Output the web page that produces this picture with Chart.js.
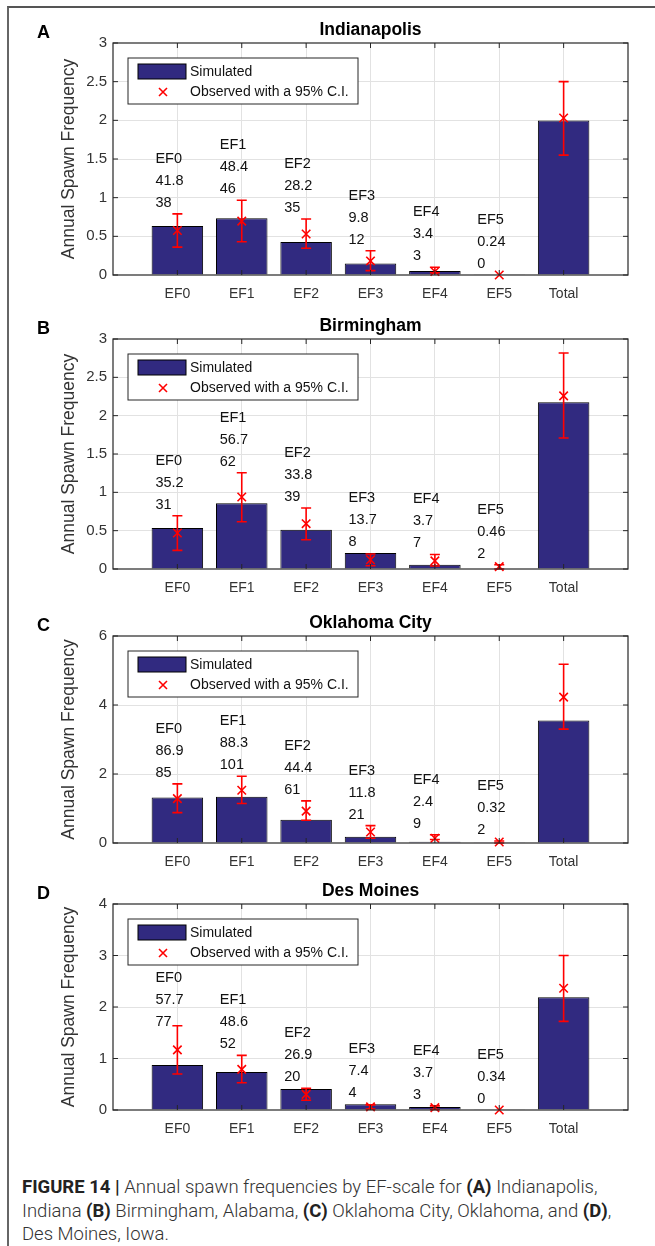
<!DOCTYPE html>
<html>
<head>
<meta charset="utf-8">
<script src="https://cdn.jsdelivr.net/npm/chart.js@4"></script>
<style>
  html, body { margin: 0; padding: 0; background: #fff; }
  #page { position: relative; width: 655px; height: 1246px; overflow: hidden; }
  #frame { position: absolute; left: 7px; top: 6px; width: 660px; height: 1260px;
           border-top: 2px solid #555; border-left: 2px solid #666; }
  canvas { position: absolute; left: 0; }
  #caption { position: absolute; left: 22px; top: 1176px; font-family: Roboto, "Liberation Sans", sans-serif;
             font-weight: 300; font-size: 18.5px; line-height: 23.5px; color: #333; white-space: nowrap; }
  #caption b { font-weight: 700; color: #222; }
</style>
</head>
<body>
<div id="page">
  <div id="frame"></div>
  <canvas id="chartA" width="655" height="295" style="top:10px"></canvas>
  <canvas id="chartB" width="655" height="294" style="top:305px"></canvas>
  <canvas id="chartC" width="655" height="274" style="top:599px"></canvas>
  <canvas id="chartD" width="655" height="267" style="top:873px"></canvas>
  <div id="caption">
    <b>FIGURE 14 |</b> Annual spawn frequencies by EF-scale for <b>(A)</b> Indianapolis,<br>
    Indiana <b>(B)</b> Birmingham, Alabama, <b>(C)</b> Oklahoma City, Oklahoma, and <b>(D)</b>,<br>
    Des Moines, Iowa.
  </div>
</div>
<script>
// categories on the x axis
const categories = ['EF0', 'EF1', 'EF2', 'EF3', 'EF4', 'EF5', 'Total'];
// record length used to turn counts into annual frequencies
const YEARS = 66;

// Indianapolis
const simIndianapolis = [41.8, 48.4, 28.2, 9.8, 3.4, 0.24, 131.84];
const obsIndianapolis = [38, 46, 35, 12, 3, 0, 134];
const ciLowIndianapolis = [0.36, 0.43, 0.345, 0.056, 0.03, 0, 1.55];
const ciHighIndianapolis = [0.79, 0.966, 0.724, 0.314, 0.1, 0, 2.5];

// Birmingham
const simBirmingham = [35.2, 56.7, 33.8, 13.7, 3.7, 0.46, 143.56];
const obsBirmingham = [31, 62, 39, 8, 7, 2, 149];
const ciLowBirmingham = [0.243, 0.617, 0.382, 0.043, 0.04, 0, 1.709];
const ciHighBirmingham = [0.695, 1.256, 0.796, 0.196, 0.19, 0.056, 2.817];

// Oklahoma City
const simOklahoma = [86.9, 88.3, 44.4, 11.8, 2.4, 0.32, 234.12];
const obsOklahoma = [85, 101, 61, 21, 9, 2, 279];
const ciLowOklahoma = [0.88, 1.143, 0.66, 0.136, 0.1, 0, 3.3];
const ciHighOklahoma = [1.713, 1.936, 1.22, 0.505, 0.24, 0.06, 5.18];

// Des Moines
const simDesMoines = [57.7, 48.6, 26.9, 7.4, 3.7, 0.34, 144.64];
const obsDesMoines = [77, 52, 20, 4, 3, 0, 156];
const ciLowDesMoines = [0.699, 0.53, 0.19, 0.02, 0.01, 0, 1.72];
const ciHighDesMoines = [1.636, 1.06, 0.42, 0.1, 0.08, 0, 3.0];

// y axis limits and tick steps per panel
const yMax = [3, 3, 6, 4];
const yStep = [0.5, 0.5, 2, 1];

const panels = [
  { id: 'chartA', letter: 'A', title: 'Indianapolis', sim: simIndianapolis, obs: obsIndianapolis, lo: ciLowIndianapolis, hi: ciHighIndianapolis, padTop: 33 },
  { id: 'chartB', letter: 'B', title: 'Birmingham', sim: simBirmingham, obs: obsBirmingham, lo: ciLowBirmingham, hi: ciHighBirmingham, padTop: 34 },
  { id: 'chartC', letter: 'C', title: 'Oklahoma City', sim: simOklahoma, obs: obsOklahoma, lo: ciLowOklahoma, hi: ciHighOklahoma, padTop: 37 },
  { id: 'chartD', letter: 'D', title: 'Des Moines', sim: simDesMoines, obs: obsDesMoines, lo: ciLowDesMoines, hi: ciHighDesMoines, padTop: 31 }
];

const FONT = "'Liberation Sans', Arial, sans-serif";
const BAR_COLOR = '#312a80';
const AXIS_COLOR = '#262626';
const RED = '#ff0000';

// matlab-style extras: box, inner ticks, error bars, legend, labels
const extrasPlugin = {
  id: 'extras',
  afterDatasetsDraw(chart) {
    const p = chart.config.options.plugins.extras;
    const ctx = chart.ctx;
    const xs = chart.scales.x, ys = chart.scales.y;
    // error bars
    ctx.save();
    ctx.strokeStyle = RED;
    ctx.lineWidth = 1.6;
    for (let i = 0; i < categories.length; i++) {
      if (p.hi[i] <= p.lo[i]) continue;
      const x = xs.getPixelForValue(i + 1);
      const y1 = ys.getPixelForValue(p.lo[i]);
      const y2 = ys.getPixelForValue(p.hi[i]);
      ctx.beginPath();
      ctx.moveTo(x, y1); ctx.lineTo(x, y2);
      ctx.moveTo(x - 5, y1); ctx.lineTo(x + 5, y1);
      ctx.moveTo(x - 5, y2); ctx.lineTo(x + 5, y2);
      ctx.stroke();
    }
    ctx.restore();
  },
  afterDraw(chart) {
    const p = chart.config.options.plugins.extras;
    const ctx = chart.ctx;
    const a = chart.chartArea;
    const xs = chart.scales.x, ys = chart.scales.y;
    ctx.save();
    // axes box
    ctx.strokeStyle = AXIS_COLOR;
    ctx.lineWidth = 1.2;
    ctx.strokeRect(a.left, a.top, a.right - a.left, a.bottom - a.top);
    // inner tick marks
    ctx.lineWidth = 1;
    ctx.beginPath();
    for (let i = 1; i <= categories.length; i++) {
      const x = xs.getPixelForValue(i);
      ctx.moveTo(x, a.bottom); ctx.lineTo(x, a.bottom - 5);
      ctx.moveTo(x, a.top); ctx.lineTo(x, a.top + 5);
    }
    ys.ticks.forEach(t => {
      const y = ys.getPixelForValue(t.value);
      ctx.moveTo(a.left, y); ctx.lineTo(a.left + 5, y);
      ctx.moveTo(a.right, y); ctx.lineTo(a.right - 5, y);
    });
    ctx.stroke();

    const lx = a.left + 15, ly = a.top + 15;

    // count labels above each EF class, kept clear of the legend
    ctx.fillStyle = '#111';
    ctx.font = '14.5px ' + FONT;
    ctx.textAlign = 'left';
    ctx.textBaseline = 'middle';
    for (let i = 0; i < categories.length - 1; i++) {
      const top = Math.max(p.hi[i], p.sim[i] / YEARS);
      const x = xs.getPixelForValue(i + 1) - 22;
      const y = Math.max(ys.getPixelForValue(top) - 11, ly + 46 + 57);
      ctx.fillText(String(p.obs[i]), x, y);
      ctx.fillText(String(p.sim[i]), x, y - 22);
      ctx.fillText(categories[i], x, y - 44);
    }

    // legend
    ctx.fillStyle = '#fff';
    ctx.fillRect(lx, ly, 230, 46);
    ctx.strokeStyle = AXIS_COLOR;
    ctx.strokeRect(lx, ly, 230, 46);
    ctx.fillStyle = BAR_COLOR;
    ctx.fillRect(lx + 10, ly + 6, 48, 15);
    ctx.strokeStyle = '#000';
    ctx.strokeRect(lx + 10, ly + 6, 48, 15);
    ctx.strokeStyle = RED;
    ctx.lineWidth = 1.6;
    ctx.beginPath();
    ctx.moveTo(lx + 31, ly + 30); ctx.lineTo(lx + 39, ly + 38);
    ctx.moveTo(lx + 39, ly + 30); ctx.lineTo(lx + 31, ly + 38);
    ctx.stroke();
    ctx.fillStyle = '#111';
    ctx.font = '14px ' + FONT;
    ctx.fillText('Simulated', lx + 62, ly + 14);
    ctx.fillText('Observed with a 95% C.I.', lx + 62, ly + 34);

    // title and panel letter
    ctx.fillStyle = '#000';
    ctx.font = 'bold 17.5px ' + FONT;
    ctx.textAlign = 'center';
    ctx.fillText(p.title, (a.left + a.right) / 2, a.top - 13);
    ctx.textAlign = 'left';
    ctx.font = 'bold 18px ' + FONT;
    ctx.fillText(p.letter, 37, a.top - 10);
    ctx.restore();
  }
};

panels.forEach((pn, k) => {
  const barData = pn.sim.map((v, i) => ({ x: i + 1, y: v / YEARS }));
  const obsData = pn.obs.map((v, i) => ({ x: i + 1, y: v / YEARS }));
  new Chart(document.getElementById(pn.id), {
    type: 'bar',
    data: {
      datasets: [
        {
          type: 'line',
          label: 'Observed with a 95% C.I.',
          data: obsData,
          showLine: false,
          pointStyle: 'crossRot',
          pointRadius: 6,
          pointBorderWidth: 1.6,
          pointBorderColor: RED,
          pointBackgroundColor: RED,
          clip: false
        },
        {
          label: 'Simulated',
          data: barData,
          backgroundColor: BAR_COLOR,
          borderColor: '#000',
          borderWidth: 1,
          barPercentage: 0.8,
          categoryPercentage: 1
        }
      ]
    },
    options: {
      responsive: false,
      animation: false,
      devicePixelRatio: 1,
      layout: { padding: { top: pn.padTop, right: 27, left: 0, bottom: 0 } },
      plugins: {
        legend: { display: false },
        tooltip: { enabled: false },
        extras: { title: pn.title, letter: pn.letter, sim: pn.sim, obs: pn.obs, lo: pn.lo, hi: pn.hi }
      },
      scales: {
        x: {
          type: 'linear',
          min: 0,
          max: 8,
          offset: false,
          border: { display: false },
          grid: {
            offset: false,
            drawTicks: false,
            color: c => (c.tick && c.tick.value >= 1 && c.tick.value <= 7) ? '#e2e2e2' : 'rgba(0,0,0,0)'
          },
          ticks: {
            stepSize: 1,
            autoSkip: false,
            maxRotation: 0,
            padding: 11,
            color: '#333',
            font: { family: FONT, size: 14 },
            callback: v => categories[v - 1] || ''
          },
          afterFit: s => { s.height = 30; }
        },
        y: {
          min: 0,
          max: yMax[k],
          border: { display: false },
          grid: {
            drawTicks: false,
            color: c => (c.tick && c.tick.value > 0 && c.tick.value < yMax[k]) ? '#e2e2e2' : 'rgba(0,0,0,0)'
          },
          ticks: {
            stepSize: yStep[k],
            padding: 6,
            color: '#333',
            font: { family: FONT, size: 15 },
            callback: v => String(+v.toFixed(2))
          },
          title: {
            display: true,
            text: 'Annual Spawn Frequency',
            color: '#333',
            font: { family: FONT, size: 17.5 },
            padding: { top: 59, bottom: 0 }
          },
          afterFit: s => { s.width = 113; }
        }
      }
    },
    plugins: [extrasPlugin]
  });
});
</script>
</body>
</html>
